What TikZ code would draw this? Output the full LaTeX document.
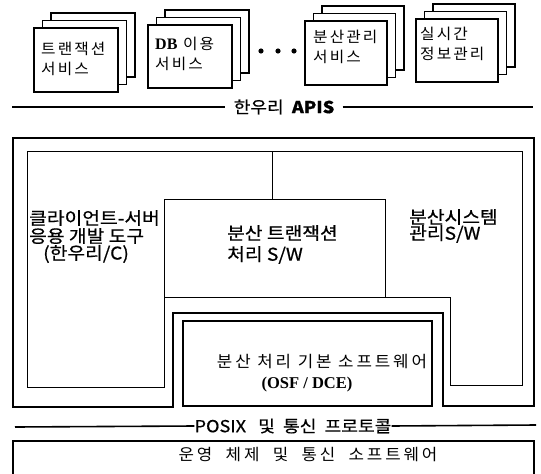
\documentclass[tikz,border=0pt]{standalone}
\usepackage{fontspec}
\setmainfont{Liberation Serif}
\newfontfamily\kr{Noto Sans CJK KR}[FakeStretch=1.1, FakeBold=0.6]
\newfontfamily\krs{Noto Sans CJK KR}[LetterSpace=14, FakeStretch=1.05]
\newfontfamily\krw{Noto Sans CJK KR}[LetterSpace=18, FakeStretch=1.05]
\begin{document}
\begin{tikzpicture}[x=1pt,y=-1pt,
  thickframe/.style={line width=2.2pt, line join=miter},
  thinframe/.style={line width=0.9pt, line join=miter},
  card/.style={draw, line width=1.1pt, fill=white},
  cardtext/.style={font=\krs\fontsize{15}{18}\selectfont, inner sep=0pt, anchor=west},
  widetext/.style={font=\krw\fontsize{16}{18}\selectfont, inner sep=0pt},
  gtext/.style={font=\kr\fontsize{17.5}{18}\selectfont, inner sep=0pt, anchor=west},
  ctext/.style={font=\kr\fontsize{16.5}{18}\selectfont, inner sep=0pt},
  rule/.style={line width=1.6pt}]
\useasboundingbox (0,0) rectangle (541,474);
\clip (0,0) rectangle (541,474);

% top service cards (stacks of three)
\foreach \xa/\ya/\xb/\yb in {34/28/118/92, 148/25/232/88, 305/21/387/85, 416/19/498/82}{
  \foreach \k in {2,1,0}{
    \draw[card, xshift=\k*8.5pt, yshift=\k*7.5pt] (\xa,\ya) rectangle (\xb,\yb);
  }
}
\node[cardtext] (t1a) at (41,49) {트랜잭션};
\node[cardtext] (t1b) at (41,69) {서비스};
\node[cardtext] (t2a) at (155,44) {{\rmfamily\bfseries\fontsize{16}{18}\selectfont DB} 이용};
\node[cardtext] (t2b) at (155,64) {서비스};
\node[cardtext] (t3a) at (313,37) {분산관리};
\node[cardtext] (t3b) at (313,57) {서비스};
\node[cardtext] (t4a) at (420,34) {실시간};
\node[cardtext] (t4b) at (420,54) {정보관리};
\foreach \dx in {261,278,294} \fill (\dx,51) circle (2.6pt);

% APIs line
\node[ctext] (api) at (284,107) {한우리\ \ \textbf{APIS}};
\coordinate (apiL) at (12,107);
\coordinate (apiR) at (533,107);
\draw[rule] (apiL) -- ([xshift=-8pt]api.west);
\draw[rule] ([xshift=8pt]api.east) -- (apiR);

% outer thick frame with notch
\draw[thickframe] (13,138) -- (534,138) -- (534,406) -- (443,406) -- (443,313)
  -- (173,313) -- (173,407) -- (13,407) -- cycle;
% inner thin frame
\draw[thinframe] (27,151) -- (522,151) -- (522,385) -- (450,385) -- (450,297)
  -- (164,297) -- (164,387) -- (27,387) -- cycle;
% distributed transaction box and divider
\draw[thinframe] (164,199) rectangle (385,297);
\draw[thinframe] (272,151) -- (272,199);
% base software box
\draw[line width=1.2pt] (183,321) rectangle (432,406);

% labels
\node[gtext] (c1) at (29,218) {클라이언트-서버};
\node[gtext] (c2) at (29,236) {응용 개발 도구};
\node[gtext] (c3) at (43,254) {(한우리/C)};
\node[gtext] (s1) at (227,233) {분산 트랜잭션};
\node[gtext] (s2) at (227,255) {처리 S/W};
\node[gtext] (r1) at (409,217) {분산시스템};
\node[gtext] (r2) at (409,234) {관리S/W};
\node[widetext] (b1) at (322,362) {분산\ 처리\ 기본\ 소프트웨어};
\node[inner sep=0pt, font=\bfseries\fontsize{16.5}{18}\selectfont] (b2) at (307,385) {(OSF / DCE)};

% POSIX line
\node[ctext] (posix) at (293,426) {POSIX\ \ \ 및\ \ 통신\ \ 프로토콜};
\coordinate (pxL) at (15,427);
\coordinate (pxR) at (536,425);
\draw[rule] (pxL) -- (posix.west);
\draw[rule] (posix.east) -- (pxR);

% operating system box (runs past the lower edge)
\draw[line width=1.1pt] (13,480) -- (13,441) -- (534,441) -- (534,480);
\node[widetext] (os) at (308,455) {운영\ \ 체제\ \ 및\ \ 통신\ \ 소프트웨어};
\end{tikzpicture}
\end{document}
